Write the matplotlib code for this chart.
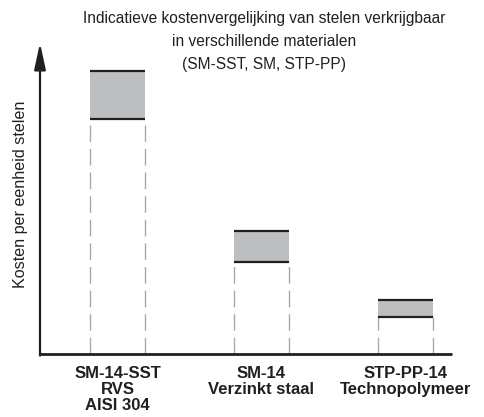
import matplotlib
matplotlib.use("Agg")
import matplotlib.pyplot as plt
from matplotlib.patches import Rectangle

categories = ["SM-14-SST\nRVS\nAISI 304", "SM-14\nVerzinkt staal", "STP-PP-14\nTechnopolymeer"]
cost_low = [75.6, 29.6, 11.9]
cost_high = [91.0, 39.5, 17.4]
title = "Indicatieve kostenvergelijking van stelen verkrijgbaar\nin verschillende materialen\n(SM-SST, SM, STP-PP)"
ylabel = "Kosten per eenheid stelen"

FONT = ["Liberation Sans Narrow", "Liberation Sans", "DejaVu Sans"]
plt.rcParams['font.family'] = FONT

fig = plt.figure(figsize=(4.85, 4.17), dpi=100)
ax = fig.add_axes([40/485, 1-354/417, (452-40)/485, (354-43)/417])
ax.set_xlim(-0.538, 2.323)
ax.set_ylim(0, 100)

width = 0.38
for i, (lo, hi) in enumerate(zip(cost_low, cost_high)):
    x0 = i - width/2
    ax.add_patch(Rectangle((x0, lo), width, hi - lo, facecolor="#bcbec0", edgecolor="none", zorder=2))
    ax.plot([x0, x0 + width], [hi, hi], color="#231f20", lw=1.6, zorder=3, solid_capstyle="butt")
    ax.plot([x0, x0 + width], [lo, lo], color="#231f20", lw=1.6, zorder=3, solid_capstyle="butt")
    for xe in (x0, x0 + width):
        ax.plot([xe, xe], [0, lo], color="#a7a9ac", lw=1.0, ls=(0, (12, 5)), zorder=1)

for s in ax.spines.values():
    s.set_visible(False)
ax.set_xticks([])
ax.set_yticks([])

# x axis line
ax.plot([-0.538, 2.323], [0, 0], color="#231f20", lw=2.0, clip_on=False, zorder=4, solid_capstyle="butt")
# y axis arrow
ax.annotate("", xy=(-0.538, 100), xytext=(-0.538, -0.5), xycoords="data",
            arrowprops=dict(arrowstyle="-|>,head_length=1.6,head_width=0.35", color="#231f20", lw=1.6,
                            shrinkA=0, shrinkB=0), annotation_clip=False)

for i, lab in enumerate(categories):
    ax.text(i, -3.9, lab, ha="center", va="top", fontsize=12, fontweight="bold",
            color="#231f20", linespacing=1.07)

fig.text(264/485, 1-11/417, title, ha="center", va="top", fontsize=11.2, color="#231f20", linespacing=1.65)
fig.text(21/485, 1-194/417, ylabel, ha="center", va="center", rotation=90, fontsize=11.6, color="#231f20")

fig.savefig("out.png", dpi=100)
